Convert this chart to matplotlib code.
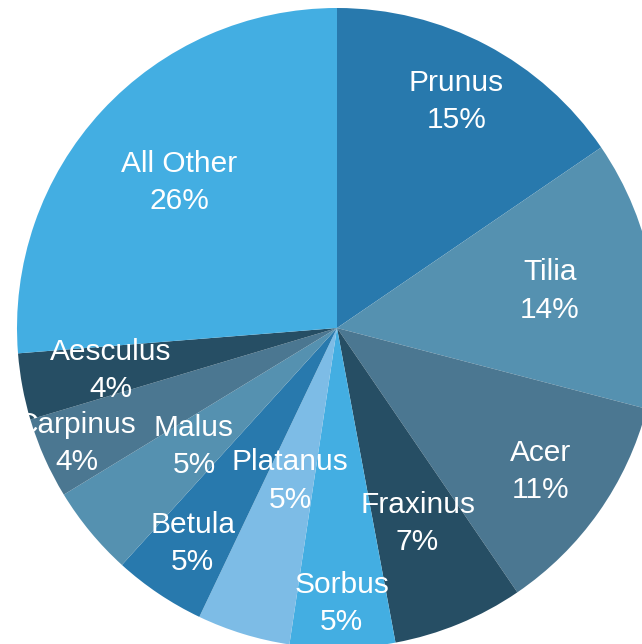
import numpy as np
import matplotlib
matplotlib.use('Agg')
import matplotlib.pyplot as plt

# tree genera share, clockwise from 12 o'clock
genera = ['Prunus', 'Tilia', 'Acer', 'Fraxinus', 'Sorbus', 'Platanus',
          'Betula', 'Malus', 'Carpinus', 'Aesculus', 'All Other']
shares = [15.45, 13.6, 11.4, 6.6, 5.3, 4.7, 4.65, 4.55, 4.1, 3.35, 26.25]
pct_labels = ['15%', '14%', '11%', '7%', '5%', '5%', '5%', '5%', '4%', '4%', '26%']

colors = ['#2879ad', '#5591b0', '#4b7791', '#264e64', '#43aee2', '#7dbce6',
          '#2879ad', '#5591b0', '#4b7791', '#264e64', '#43aee2']
# how far out each label sits (fraction of radius)
label_r = [0.80, 0.675, 0.78, 0.66, 0.86, 0.50, 0.81, 0.58, 0.89, 0.72, 0.67]

plt.rcParams['font.family'] = ['Liberation Sans', 'DejaVu Sans']

fig = plt.figure(figsize=(6.42, 6.44), dpi=100)
ax = fig.add_axes([0, 0, 1, 1])

wedges, _ = ax.pie(shares, colors=colors, startangle=90, counterclock=False,
                   radius=1, wedgeprops=dict(linewidth=0))

for w, name, pct, r in zip(wedges, genera, pct_labels, label_r):
    mid = np.deg2rad((w.theta1 + w.theta2) / 2)
    ax.text(r * np.cos(mid), r * np.sin(mid), name + '\n' + pct,
            ha='center', va='center', color='white', fontsize=21.5,
            linespacing=1.42)

# pie centre sits at pixel (337, 328), radius about 320 px
R = 320.0
ax.set_xlim(-337 / R, (642 - 337) / R)
ax.set_ylim(-(644 - 328) / R, 328 / R)
ax.set_aspect('auto')
ax.axis('off')

fig.savefig('out.png', dpi=100)
